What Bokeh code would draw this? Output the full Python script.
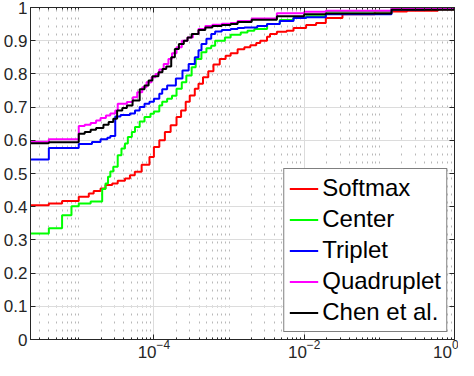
from bokeh.plotting import figure
from bokeh.models import (FixedTicker, LogAxis, LinearAxis, Legend, LegendItem,
                          NumeralTickFormatter, LogTickFormatter)
from bokeh.embed import file_html
from bokeh.resources import INLINE

# ---- data ----
softmax_x = [2e-6, 4e-6, 6e-6, 1e-5, 1.36e-5, 1.58e-5, 1.95e-5, 2.27e-5, 2.79e-5, 3.3e-5,
             4.12e-5, 4.8e-5, 5.57e-5, 6.87e-5, 8.73e-5, 1.0e-4, 1.18e-4, 1.4e-4, 1.67e-4,
             2.0e-4, 2.3e-4, 2.65e-4, 3.0e-4, 3.5e-4, 3.92e-4, 4.5e-4, 5.29e-4, 6.2e-4,
             7.52e-4, 9e-4, 1.05e-3, 1.3e-3, 1.6e-3, 1.92e-3, 2.3e-3, 2.6e-3, 3.2e-3,
             3.51e-3, 4.33e-3, 5.84e-3, 7.21e-3, 1.06e-2, 1.44e-2, 1.94e-2, 3.23e-2,
             8.7e-2, 0.234, 0.6, 1.0]
softmax_y = [0.404, 0.41, 0.417, 0.43, 0.44, 0.447, 0.455, 0.465, 0.47, 0.478,
             0.485, 0.495, 0.505, 0.526, 0.55, 0.58, 0.60, 0.625, 0.645,
             0.67, 0.69, 0.716, 0.735, 0.755, 0.77, 0.79, 0.808, 0.828,
             0.845, 0.855, 0.862, 0.874, 0.88, 0.886, 0.893, 0.9, 0.912,
             0.92, 0.927, 0.93, 0.938, 0.947, 0.953, 0.968, 0.98,
             0.988, 0.99, 0.995, 1.0]

center_x = [2e-6, 4e-6, 6e-6, 8e-6, 1e-5, 1.44e-5, 2.05e-5, 2.27e-5, 2.45e-5, 2.63e-5,
            2.88e-5, 3.3e-5, 3.7e-5, 4.12e-5, 4.5e-5, 5.09e-5, 5.6e-5, 6.47e-5, 7.5e-5,
            9e-5, 1.0e-4, 1.18e-4, 1.29e-4, 1.5e-4, 1.74e-4, 2.0e-4, 2.35e-4, 2.7e-4,
            3.18e-4, 3.6e-4, 4.29e-4, 5.0e-4, 5.79e-4, 6.53e-4, 8.81e-4, 1.05e-3,
            1.43e-3, 1.76e-3, 2.17e-3, 3.21e-3, 4.73e-3, 7.21e-3, 1.06e-2, 1.94e-2,
            0.145, 0.5, 1.0]
center_y = [0.319, 0.335, 0.374, 0.401, 0.41, 0.416, 0.453, 0.47, 0.49, 0.506,
            0.52, 0.555, 0.575, 0.59, 0.61, 0.625, 0.64, 0.657, 0.67,
            0.68, 0.687, 0.705, 0.716, 0.725, 0.734, 0.755, 0.775, 0.795,
            0.82, 0.845, 0.865, 0.877, 0.885, 0.9, 0.91, 0.918,
            0.925, 0.93, 0.935, 0.95, 0.962, 0.968, 0.974, 0.988,
            0.997, 0.999, 1.0]

triplet_x = [2e-6, 4e-6, 1e-5, 1.5e-5, 1.95e-5, 2.4e-5, 2.63e-5, 3.06e-5, 3.6e-5,
             4.8e-5, 5.6e-5, 6.47e-5, 7.5e-5, 8.73e-5, 1.0e-4, 1.18e-4, 1.29e-4,
             1.5e-4, 1.96e-4, 2.4e-4, 2.9e-4, 3.5e-4, 3.92e-4, 4.3e-4, 5.0e-4,
             5.79e-4, 6.53e-4, 8e-4, 1.05e-3, 1.3e-3, 1.6e-3, 2.37e-3, 3.2e-3,
             4.73e-3, 7.21e-3, 1.06e-2, 1.94e-2, 0.145, 0.4, 1.0]
triplet_y = [0.542, 0.577, 0.589, 0.595, 0.603, 0.608, 0.613, 0.672, 0.676,
             0.681, 0.69, 0.70, 0.71, 0.716, 0.725, 0.74, 0.754,
             0.765, 0.786, 0.81, 0.83, 0.85, 0.871, 0.89, 0.906,
             0.92, 0.928, 0.932, 0.935, 0.938, 0.94, 0.944, 0.95,
             0.959, 0.968, 0.971, 0.98, 0.994, 0.998, 1.0]

quad_x = [2e-6, 4e-6, 1e-5, 1.2e-5, 1.44e-5, 1.7e-5, 1.95e-5, 2.3e-5, 2.63e-5, 3.06e-5,
          3.3e-5, 4.37e-5, 5.25e-5, 6.0e-5, 7e-5, 7.98e-5, 9.3e-5, 1.05e-4, 1.18e-4,
          1.35e-4, 1.56e-4, 1.74e-4, 2.0e-4, 2.35e-4, 2.8e-4, 3.3e-4, 3.92e-4, 4.83e-4,
          6e-4, 8e-4, 1.05e-3, 1.3e-3, 2e-3, 4.33e-3, 1e-2, 1.94e-2, 0.145, 1.0]
quad_y = [0.596, 0.603, 0.643, 0.647, 0.652, 0.66, 0.667, 0.675, 0.681, 0.69,
          0.71, 0.715, 0.73, 0.745, 0.76, 0.775, 0.79, 0.80, 0.813,
          0.83, 0.845, 0.862, 0.88, 0.9, 0.91, 0.92, 0.935, 0.944,
          0.948, 0.951, 0.953, 0.959, 0.967, 0.983, 0.987, 0.99, 0.997, 1.0]

chen_x = [2e-6, 4e-6, 1e-5, 1.2e-5, 1.44e-5, 1.7e-5, 2.13e-5, 2.5e-5, 2.88e-5, 3.24e-5,
          3.8e-5, 4.37e-5, 5.2e-5, 6.47e-5, 7.5e-5, 8.5e-5, 9.55e-5, 1.15e-4, 1.3e-4,
          1.46e-4, 1.7e-4, 1.9e-4, 2.15e-4, 2.5e-4, 2.8e-4, 3.18e-4, 3.92e-4, 4.83e-4,
          6e-4, 8e-4, 1.05e-3, 1.3e-3, 2e-3, 4.33e-3, 1e-2, 1.94e-2, 0.145, 1.0]
chen_y = [0.591, 0.594, 0.62, 0.625, 0.632, 0.637, 0.647, 0.655, 0.665, 0.69,
          0.697, 0.705, 0.72, 0.754, 0.765, 0.78, 0.793, 0.805, 0.815,
          0.822, 0.85, 0.875, 0.89, 0.9, 0.91, 0.92, 0.932, 0.94,
          0.944, 0.947, 0.95, 0.956, 0.963, 0.974, 0.98, 0.982, 0.993, 1.0]

series_names = ["Softmax", "Center", "Triplet", "Quadruplet", "Chen et al."]
series_colors = ["#ff0000", "#00ff00", "#0000ff", "#ff00ff", "#000000"]
series_x = [softmax_x, center_x, triplet_x, quad_x, chen_x]
series_y = [softmax_y, center_y, triplet_y, quad_y, chen_y]

x_major = [1e-4, 1e-2, 1.0]
y_ticks = [0, 0.1, 0.2, 0.3, 0.4, 0.5, 0.6, 0.7, 0.8, 0.9, 1.0]

# ---- figure ----
AX = "#262626"
FONT = "Liberation Sans"

p = figure(width=458, height=360, x_axis_type="log", x_range=(2.28e-6, 1.0),
           y_range=(0, 1), output_backend="svg", toolbar_location=None,
           min_border_left=26, min_border_right=4, min_border_top=7,
           min_border_bottom=0)
p.background_fill_color = "white"
p.border_fill_color = "white"
p.outline_line_color = AX

minor = [m * 10.0 ** e for e in range(-6, 1) for m in range(1, 10)
         if (m * 10.0 ** e) <= 1.0 and not (m == 1 and e in (-4, -2, 0))]
xticker = FixedTicker(ticks=x_major, minor_ticks=minor)
yticker = FixedTicker(ticks=y_ticks)

xa = p.xaxis[0]
xa.ticker = xticker
xa.formatter = LogTickFormatter()
ya = p.yaxis[0]
ya.ticker = yticker
ya.formatter = NumeralTickFormatter(format="0.[0]")

for ax in (xa, ya):
    ax.axis_line_color = AX
    ax.axis_line_width = 1
    ax.major_tick_line_color = AX
    ax.minor_tick_line_color = AX
    ax.major_tick_in = 5
    ax.major_tick_out = 0
    ax.minor_tick_in = 2
    ax.minor_tick_out = 0
    ax.major_label_text_font = FONT
    ax.major_label_text_color = AX
xa.major_label_text_font_size = "17px"
ya.major_label_text_font_size = "17px"
xa.major_label_standoff = 0
ya.major_label_standoff = 3

top = LogAxis(ticker=xticker, formatter=LogTickFormatter(),
              major_label_text_font_size="1px", major_label_text_alpha=0,
              major_label_standoff=0, major_tick_in=5, major_tick_out=0,
              minor_tick_in=2, minor_tick_out=0, axis_line_color=AX,
              major_tick_line_color=AX, minor_tick_line_color=AX)
right = LinearAxis(ticker=yticker, formatter=NumeralTickFormatter(format="0.[0]"),
                   major_label_text_font_size="1px", major_label_text_alpha=0,
                   major_label_standoff=0, major_tick_in=5, major_tick_out=0,
                   minor_tick_in=0, minor_tick_out=0, axis_line_color=AX,
                   major_tick_line_color=AX)
p.add_layout(top, "above")
p.add_layout(right, "right")

p.xgrid.grid_line_color = "#dcdcdc"
p.xgrid.minor_grid_line_color = "#b8b8b8"
p.xgrid.minor_grid_line_dash = "2 6"
p.ygrid.grid_line_color = "#dcdcdc"

items = []
for name, col, xs, ys in zip(series_names, series_colors, series_x, series_y):
    r = p.step(xs, ys, mode="after", line_color=col, line_width=2)
    items.append(LegendItem(label=name, renderers=[r]))

legend = Legend(items=items, location="bottom_right")
legend.border_line_color = "black"
legend.border_line_width = 1
legend.background_fill_color = "white"
legend.background_fill_alpha = 1
legend.label_text_font = FONT
legend.label_text_font_size = "24px"
legend.label_text_color = "black"
legend.glyph_width = 29
legend.glyph_height = 27
legend.label_height = 27
legend.spacing = 3
legend.padding = 5
legend.margin = 7
legend.label_standoff = 4
p.add_layout(legend)

open("out.html", "w").write(file_html(p, INLINE))
